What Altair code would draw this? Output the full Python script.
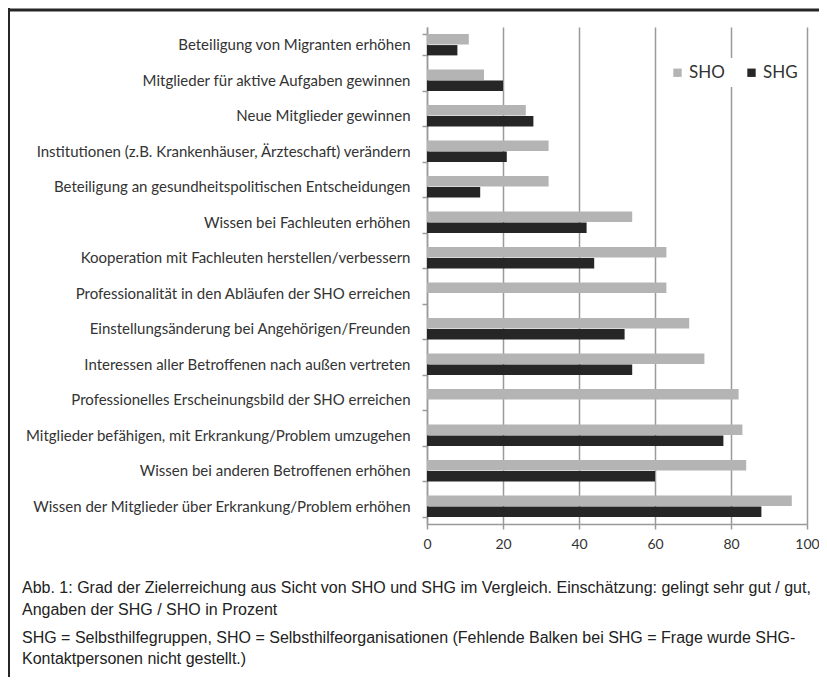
import altair as alt
import pandas as pd

categories = [
    "Beteiligung von Migranten erhöhen",
    "Mitglieder für aktive Aufgaben gewinnen",
    "Neue Mitglieder gewinnen",
    "Institutionen (z.B. Krankenhäuser, Ärzteschaft) verändern",
    "Beteiligung an gesundheitspolitischen Entscheidungen",
    "Wissen bei Fachleuten erhöhen",
    "Kooperation mit Fachleuten herstellen/verbessern",
    "Professionalität in den Abläufen der SHO erreichen",
    "Einstellungsänderung bei Angehörigen/Freunden",
    "Interessen aller Betroffenen nach außen vertreten",
    "Professionelles Erscheinungsbild der SHO erreichen",
    "Mitglieder befähigen, mit Erkrankung/Problem umzugehen",
    "Wissen bei anderen Betroffenen erhöhen",
    "Wissen der Mitglieder über Erkrankung/Problem erhöhen",
]
sho = [11, 15, 26, 32, 32, 54, 63, 63, 69, 73, 82, 83, 84, 96]
shg = [8, 20, 28, 21, 14, 42, 44, None, 52, 54, None, 78, 60, 88]
series = ["SHO", "SHG"]
colors = ["#b4b4b4", "#262626"]
x_ticks = [0, 20, 40, 60, 80, 100]

caption_lines = [
    "Abb. 1: Grad der Zielerreichung aus Sicht von SHO und SHG im Vergleich. Einschätzung: gelingt sehr gut / gut,",
    "Angaben der SHG / SHO in Prozent",
    "SHG = Selbsthilfegruppen, SHO = Selbsthilfeorganisationen (Fehlende Balken bei SHG = Frage wurde SHG-",
    "Kontaktpersonen nicht gestellt.)",
]
caption_y = [561, 583, 611, 632]

rows = []
for c, a, b in zip(categories, sho, shg):
    rows.append({"Ziel": c, "Gruppe": "SHO", "Wert": a})
    if b is not None:
        rows.append({"Ziel": c, "Gruppe": "SHG", "Wert": b})
df = pd.DataFrame(rows)

W, H = 380, 497
PAD_L, PAD_T, PAD_R, PAD_B = 419, 19, 12, 153

bars = alt.Chart(df).mark_bar().encode(
    x=alt.X(
        "Wert:Q",
        scale=alt.Scale(domain=[0, 100], nice=False),
        axis=alt.Axis(
            values=x_ticks, title=None, grid=True, gridColor="#9a9a9a", gridWidth=1.5,
            domainColor="#9a9a9a", domainWidth=1.5, tickColor="#9a9a9a", tickWidth=1.5,
            tickSize=5, labelFont="Lato", labelFontSize=14, labelColor="#333333",
            labelPadding=8, labelFlush=False,
        ),
    ),
    y=alt.Y(
        "Ziel:N",
        sort=categories,
        scale=alt.Scale(paddingInner=0.4, paddingOuter=0.2),
        axis=alt.Axis(
            title=None, tickBand="extent", domainColor="#9a9a9a", domainWidth=1.5,
            tickColor="#9a9a9a", tickWidth=1.5, tickSize=5, labelPadding=12,
            labelFont="Lato", labelFontSize=15, labelColor="#333333", labelLimit=450,
        ),
    ),
    yOffset=alt.YOffset("Gruppe:N", sort=series, scale=alt.Scale(paddingInner=0.06)),
    color=alt.Color(
        "Gruppe:N",
        sort=series,
        scale=alt.Scale(domain=series, range=colors),
        legend=alt.Legend(
            title=None, orient="none", legendX=236, legendY=31, direction="horizontal",
            symbolType="square", symbolSize=70, symbolStrokeWidth=0, labelFont="Lato",
            labelFontSize=17, labelColor="#333333", columnPadding=18, labelOffset=3,
            fillColor="white", padding=6,
        ),
    ),
)

frame_df = pd.DataFrame({"k": [0]})
left_line = alt.Chart(frame_df).mark_rule(color="#262626", strokeWidth=3).encode(
    x=alt.value(-PAD_L + 0.5), y=alt.value(-PAD_T), y2=alt.value(H + PAD_B)
)
top_line = alt.Chart(frame_df).mark_rule(color="#262626", strokeWidth=3).encode(
    x=alt.value(-PAD_L), x2=alt.value(W + PAD_R), y=alt.value(-PAD_T + 2)
)

caption_layers = []
for line, yv in zip(caption_lines, caption_y):
    caption_layers.append(
        alt.Chart(frame_df).mark_text(
            text=line, align="left", baseline="middle", font="Liberation Sans",
            fontSize=16, color="#222222",
        ).encode(x=alt.value(-405), y=alt.value(yv))
    )

chart = alt.layer(bars, left_line, top_line, *caption_layers).properties(
    width=W,
    height=H,
    autosize=alt.AutoSizeParams(type="none"),
    padding={"left": PAD_L, "top": PAD_T, "right": PAD_R, "bottom": PAD_B},
).configure_view(stroke=None)

chart.save("out.html", embed_options={"renderer": "svg", "actions": False})
